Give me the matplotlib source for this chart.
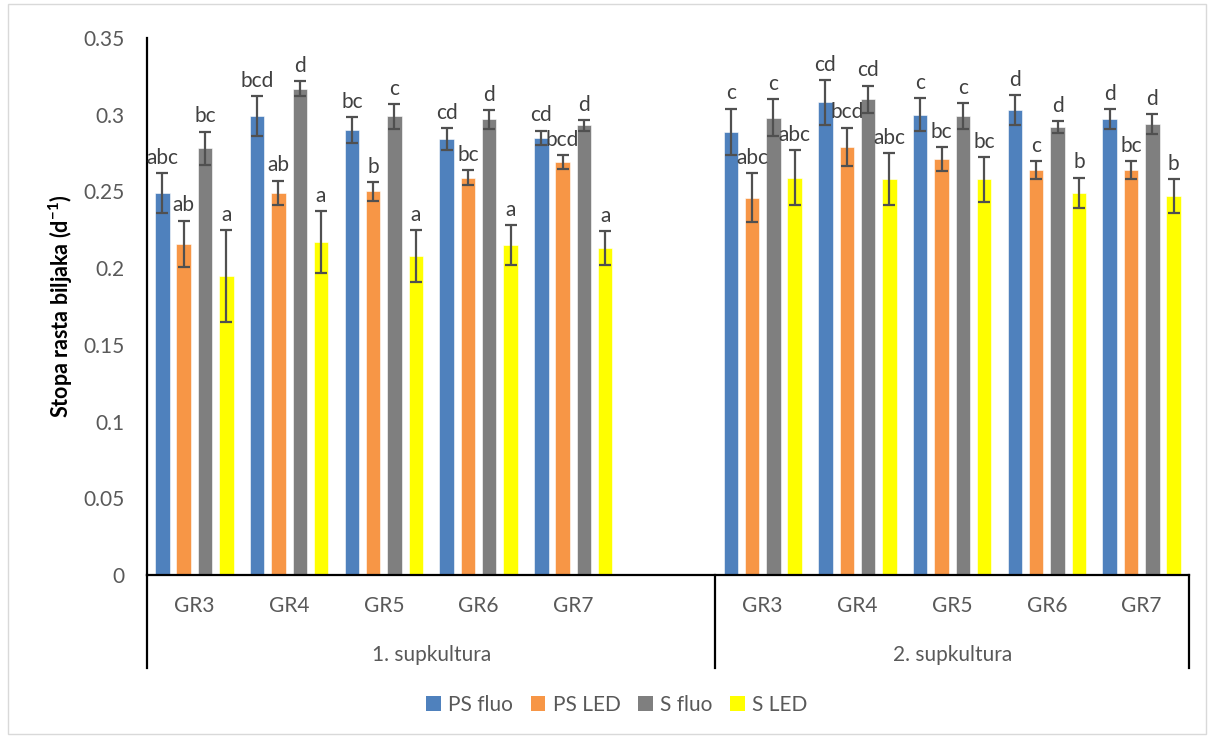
import matplotlib
matplotlib.use("Agg")
import matplotlib.pyplot as plt
from matplotlib.patches import Patch, Rectangle
from matplotlib.lines import Line2D
import numpy as np

plt.rcParams['font.family'] = ['Lato', 'DejaVu Sans']
plt.rcParams['mathtext.fontset'] = 'custom'
plt.rcParams['mathtext.rm'] = 'Lato'
plt.rcParams['mathtext.bf'] = 'Lato:bold'

# ---------------- data ----------------
groups = ["1. supkultura", "2. supkultura"]
categories = ["GR3", "GR4", "GR5", "GR6", "GR7"]
series = ["PS fluo", "PS LED", "S fluo", "S LED"]
colors = ["#4F81BD", "#F79646", "#7F7F7F", "#FFFF00"]

ps_fluo_1 = [0.249, 0.299, 0.290, 0.284, 0.285]
ps_led_1 = [0.216, 0.249, 0.250, 0.259, 0.269]
s_fluo_1 = [0.278, 0.317, 0.299, 0.297, 0.293]
s_led_1 = [0.195, 0.217, 0.208, 0.215, 0.213]

ps_fluo_2 = [0.289, 0.308, 0.300, 0.303, 0.297]
ps_led_2 = [0.246, 0.279, 0.271, 0.264, 0.264]
s_fluo_2 = [0.298, 0.310, 0.299, 0.292, 0.294]
s_led_2 = [0.259, 0.258, 0.258, 0.249, 0.247]

ps_fluo_err_1 = [0.013, 0.013, 0.0085, 0.0073, 0.0046]
ps_led_err_1 = [0.015, 0.008, 0.0063, 0.005, 0.0046]
s_fluo_err_1 = [0.011, 0.005, 0.008, 0.006, 0.0037]
s_led_err_1 = [0.030, 0.020, 0.017, 0.013, 0.011]

ps_fluo_err_2 = [0.015, 0.0144, 0.0106, 0.0096, 0.0065]
ps_led_err_2 = [0.016, 0.0126, 0.008, 0.006, 0.006]
s_fluo_err_2 = [0.012, 0.009, 0.0085, 0.0037, 0.0063]
s_led_err_2 = [0.018, 0.017, 0.0146, 0.010, 0.011]

ps_fluo_lbl_1 = ["abc", "bcd", "bc", "cd", "cd"]
ps_led_lbl_1 = ["ab", "ab", "b", "bc", "bcd"]
s_fluo_lbl_1 = ["bc", "d", "c", "d", "d"]
s_led_lbl_1 = ["a", "a", "a", "a", "a"]

ps_fluo_lbl_2 = ["c", "cd", "c", "d", "d"]
ps_led_lbl_2 = ["abc", "bcd", "bc", "c", "bc"]
s_fluo_lbl_2 = ["c", "cd", "c", "d", "d"]
s_led_lbl_2 = ["abc", "abc", "bc", "b", "b"]

values = [[ps_fluo_1, ps_led_1, s_fluo_1, s_led_1],
          [ps_fluo_2, ps_led_2, s_fluo_2, s_led_2]]
errors = [[ps_fluo_err_1, ps_led_err_1, s_fluo_err_1, s_led_err_1],
          [ps_fluo_err_2, ps_led_err_2, s_fluo_err_2, s_led_err_2]]
labels = [[ps_fluo_lbl_1, ps_led_lbl_1, s_fluo_lbl_1, s_led_lbl_1],
          [ps_fluo_lbl_2, ps_led_lbl_2, s_fluo_lbl_2, s_led_lbl_2]]

# ---------------- figure ----------------
W, H = 1214, 737
fig = plt.figure(figsize=(W / 100, H / 100), dpi=100)

fig.patches.append(Rectangle((8 / W, 3 / H), (1206 - 8) / W, (733 - 3) / H,
                             transform=fig.transFigure, fill=False,
                             edgecolor="#D9D9D9", linewidth=1.0))

ax_left, ax_right, ax_top, ax_bottom = 147, 1189, 38, 575
ax = fig.add_axes([ax_left / W, 1 - ax_bottom / H,
                   (ax_right - ax_left) / W, (ax_bottom - ax_top) / H])

n_slots = len(categories) * 2 + 1
pitch = 0.225
width = 0.153
text_col = "#595959"
lbl_col = "#404040"

for g in range(2):
    base = g * (len(categories) + 1)
    centers = np.arange(len(categories)) + base + 0.5
    for s in range(len(series)):
        xs = centers + (s - 1.5) * pitch
        ax.bar(xs, values[g][s], width=width, color=colors[s],
               edgecolor="white", linewidth=0.4, zorder=2)
        ax.errorbar(xs, values[g][s], yerr=errors[g][s], fmt="none",
                    ecolor="#505050", elinewidth=1.6, capsize=4.6,
                    capthick=1.6, zorder=3)
        for x, v, e, t in zip(xs, values[g][s], errors[g][s], labels[g][s]):
            ax.text(x, v + e + 0.006, t, ha="center", va="baseline",
                    fontsize=15, color=lbl_col, zorder=4)

ax.set_xlim(0, n_slots)
ax.set_ylim(0, 0.35)
ax.set_yticks(np.arange(0, 0.351, 0.05))
ax.set_yticklabels(["0", "0.05", "0.1", "0.15", "0.2", "0.25", "0.3", "0.35"])
ax.tick_params(axis="y", length=0, pad=16, labelsize=15, labelcolor=text_col)
ax.set_xticks([])
for sp in ["top", "right"]:
    ax.spines[sp].set_visible(False)
for sp in ["left", "bottom"]:
    ax.spines[sp].set_linewidth(1.6)
    ax.spines[sp].set_color("black")

# multi-level category axis
ax_h = ax_bottom - ax_top
y_low = -(668 - ax_bottom) / ax_h
y_cat = -(606 - ax_bottom) / ax_h
y_grp = -(655 - ax_bottom) / ax_h
trans = ax.get_xaxis_transform()
for xv in [0, len(categories) + 1, n_slots]:
    ax.add_line(Line2D([xv, xv], [0, y_low], transform=trans, color="black",
                       linewidth=1.6, clip_on=False))
for g in range(2):
    base = g * (len(categories) + 1)
    for i, c in enumerate(categories):
        ax.text(base + i + 0.5, y_cat, c, transform=trans, ha="center",
                va="center", fontsize=15, color=text_col)
    gc = (len(categories) + 1) / 2 if g == 0 else base + len(categories) / 2
    ax.text(gc, y_grp, groups[g], transform=trans, ha="center", va="center",
            fontsize=15, color=text_col)

ax.text(-0.083, 0.5, r"Stopa rasta biljaka (d$^{\mathbf{-1}}$)",
        transform=ax.transAxes, rotation=90, ha="center", va="center",
        rotation_mode="anchor", fontsize=15.5, fontweight="bold",
        color="black")

handles = [Patch(facecolor=c, edgecolor="none") for c in colors]
fig.legend(handles, series, loc="center", bbox_to_anchor=(617 / W, 1 - 705 / H),
           ncol=4, frameon=False, fontsize=15, labelcolor=text_col,
           handlelength=0.7, handleheight=0.7, handletextpad=0.35,
           columnspacing=0.85)

fig.savefig("out.png", dpi=100)
